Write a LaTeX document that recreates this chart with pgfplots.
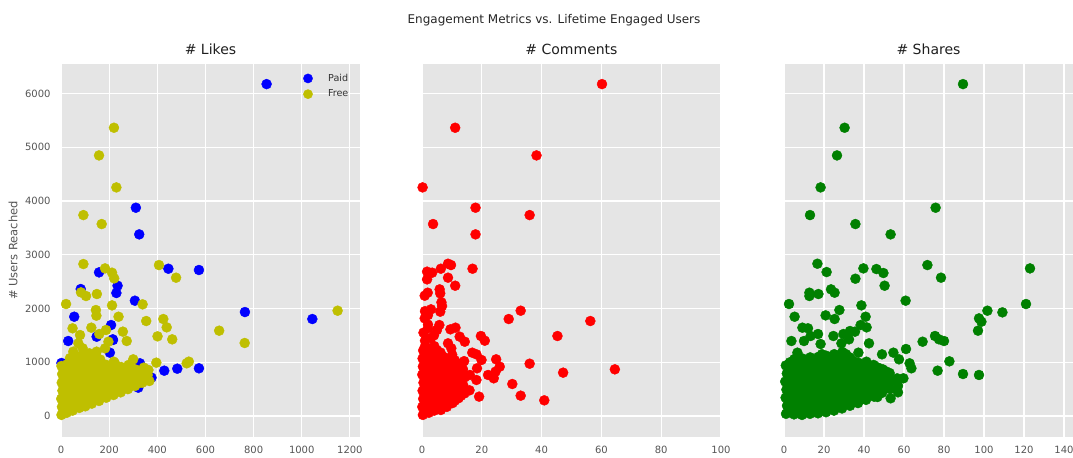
\documentclass[border=0pt]{standalone}
\usepackage{fontspec}
\setmainfont{DejaVu Sans}
\usepackage{pgfplots}
\usepackage{pgfplotstable}
\pgfplotsset{compat=1.18}
\definecolor{bg}{HTML}{E5E5E5}
\definecolor{tick}{HTML}{555555}
\definecolor{paid}{rgb}{0,0,1}
\definecolor{free}{rgb}{0.75,0.75,0}
\definecolor{cr}{rgb}{1,0,0}
\definecolor{sg}{rgb}{0,0.5,0}

\pgfplotstableread{
x y
854 6175
311 3875
325 3379
158 2672
446 2740
573 2716
82 2362
235 2424
230 2288
307 2145
764 1934
1044 1804
55 1847
208 1692
30 1395
215 1426
148 1475
203 1178
328 980
429 843
483 880
573 887
321 527
245 484
376 713
280 825
17 949
100 918
2 986
120 707
278 856
216 1414
60 600
150 750
10 300
}\likespaid

\pgfplotstableread{
x y
220 5363
158 4848
230 4253
93 3738
169 3571
93 2827
407 2808
183 2746
212 2666
221 2560
478 2573
83 2300
104 2232
149 2269
21 2083
212 2058
339 2077
145 1971
147 1866
239 1847
425 1804
1149 1959
354 1767
439 1649
48 1631
126 1643
187 1600
257 1569
657 1587
401 1482
159 1525
79 1506
462 1426
273 1395
763 1358
197 1382
72 1352
90 1259
51 1197
148 1197
183 1259
118 1166
300 1054
396 992
224 980
522 980
531 1011
363 856
360 763
367 651
314 856
314 670
273 670
2 20
4 170
1 320
6 470
3 620
5 780
2 930
24 60
20 220
27 370
22 510
26 660
21 820
25 960
48 100
52 250
46 400
55 560
49 700
53 850
47 1010
76 150
72 290
78 450
74 590
77 750
71 900
79 1040
101 180
98 330
104 490
99 640
102 790
97 940
105 1090
128 230
133 390
127 540
132 690
129 840
134 1000
158 280
162 440
156 590
161 740
157 900
163 1050
188 340
192 490
186 640
191 790
189 950
218 390
222 550
216 700
221 860
219 1010
248 440
252 600
246 760
251 910
278 500
282 650
276 800
281 950
308 560
312 720
306 870
338 620
342 760
344 900
10 80
35 130
12 250
60 180
85 260
12 95
12 395
12 545
12 695
12 845
37 175
37 325
37 475
37 625
37 775
37 925
37 1075
62 215
62 365
62 515
62 665
62 815
62 965
62 1115
87 225
87 375
87 525
87 675
87 825
87 975
87 1125
115 265
115 415
115 565
115 715
115 865
115 1015
145 315
145 465
145 615
145 765
145 915
145 1065
175 365
175 515
175 665
175 815
175 965
205 415
205 565
205 715
205 865
235 465
235 615
235 765
235 915
265 515
265 665
265 815
295 565
295 715
295 865
325 615
325 765
}\likesfree

\pgfplotstableread{
x y
60.2 6175
11.1 5363
38.3 4848
0.2 4253
17.9 3875
36 3738
3.7 3571
17.9 3379
8.7 2833
9.7 2808
6.3 2740
16.9 2740
1.7 2685
3.4 2666
8.7 2573
1.7 2542
11.1 2424
5.9 2356
6.1 2281
1.9 2294
0.9 2238
6.5 2114
6.7 2046
3 1984
6.1 1941
2 1878
0.9 1816
33 1959
29 1804
56.3 1767
45.3 1488
5.8 1692
9.5 1612
11.2 1643
2 1631
12.6 1476
14.3 1382
19.7 1488
21 1401
8.7 1352
9.8 1259
16.8 1178
18.2 1147
19.9 1042
24.8 1054
26 918
36 973
64.5 868
47.2 806
24.6 825
24 701
22.1 763
30.2 595
33 378
40.9 291
19.1 360
18.2 670
18.4 887
16 763
15.9 477
6.3 112
0.3 20
0.1 170
0.4 320
0.2 470
0.5 620
0.1 770
0.3 920
0.2 1070
0.4 1220
2.3 60
1.8 210
2.4 360
1.7 510
2.2 660
1.9 810
2.5 960
1.8 1110
2.2 1260
4.1 100
3.7 250
4.3 400
3.8 550
4.2 700
3.9 850
4.4 1000
3.6 1150
4.1 1300
6.2 130
5.8 280
6.4 430
5.7 580
6.1 730
6.3 880
5.9 1030
6.2 1180
8.3 170
7.8 320
8.4 470
7.9 620
8.2 770
7.7 920
8.1 1070
10.2 240
9.8 390
10.4 540
9.7 690
10.3 840
9.9 990
10.1 1140
12.2 330
11.8 480
12.4 630
11.7 780
12.1 930
14.2 420
13.8 570
14.3 720
13.7 870
14.1 1020
1 95
1 245
1 395
1 545
1 695
1 845
1 995
1 1145
1 1295
3 135
3 285
3 435
3 585
3 735
3 885
3 1035
3 1185
5 175
5 325
5 475
5 625
5 775
5 925
5 1075
5 1225
7 205
7 355
7 505
7 655
7 805
7 955
7 1105
9 245
9 395
9 545
9 695
9 845
9 995
11 285
11 435
11 585
11 735
11 885
11 1035
13 375
13 525
13 675
13 825
13 975
1 1400
3 1450
0.5 1550
4 1500
2 1700
5 1600
1 1950
}\comments

\pgfplotstableread{
x y
89.5 6175
30.3 5363
26.5 4848
18.3 4253
75.8 3875
13 3738
35.7 3571
53.3 3379
16.7 2833
71.7 2808
39.7 2746
46.2 2734
49.7 2660
21.3 2678
123 2746
78.5 2573
35.7 2554
50.3 2424
23.5 2356
25.3 2294
12.7 2294
12.7 2232
17.2 2269
60.8 2145
2.5 2083
38.7 2058
121 2083
27.7 1971
101.7 1959
109.2 1928
97.5 1816
98.7 1754
97 1587
5.3 1847
20.8 1872
25.3 1804
40.8 1847
38.3 1692
41.3 1649
9.2 1643
12 1631
17 1525
24.7 1488
29.7 1525
33 1581
35.5 1569
3.7 1395
10 1395
13.3 1488
18.3 1339
28.7 1352
32.5 1426
42.5 1352
69.3 1382
75.5 1488
77.5 1426
80 1395
61 1246
6.7 1178
37.2 1178
49 1147
54.7 1178
57.5 1054
62.8 980
63.7 887
82.7 1017
76.8 843
89.5 781
97.5 763
59.7 701
46.7 353
53.3 329
57 440
40.8 465
1 40
1.5 190
0.8 340
1.2 490
0.6 640
1.4 790
0.9 940
5 30
5.5 180
4.6 330
5.3 480
4.8 630
5.4 780
4.7 930
5.2 1060
9 20
9.4 170
8.7 320
9.3 470
8.8 620
9.5 770
8.9 920
9.2 1070
13 40
13.5 190
12.7 340
13.3 490
12.8 640
13.4 790
12.9 940
13.1 1090
17 50
17.4 200
16.6 350
17.3 500
16.8 650
17.5 800
16.9 950
17.2 1100
21 70
21.4 220
20.7 370
21.3 520
20.8 670
21.5 820
20.9 970
21.2 1120
25 100
25.4 250
24.6 400
25.3 550
24.8 700
25.5 850
24.7 1000
25.1 1150
29 140
29.4 290
28.7 440
29.3 590
28.8 740
29.5 890
28.9 1040
29.2 1190
33 190
33.4 340
32.7 490
33.3 640
32.8 790
33.5 940
32.9 1090
37 240
37.4 390
36.7 540
37.3 690
36.8 840
37.2 990
41 300
41.4 450
40.7 600
41.3 750
40.8 900
41.2 1010
45 360
45.4 510
44.7 660
45.3 810
44.8 950
49 430
49.4 580
48.7 730
49.3 870
53 500
53.4 650
52.8 800
57 560
56.6 700
3 115
3 265
3 415
3 565
3 715
3 865
3 1000
7 115
7 265
7 415
7 565
7 715
7 865
7 1015
11 115
11 265
11 415
11 565
11 715
11 865
11 1015
15 115
15 265
15 415
15 565
15 715
15 865
15 1015
19 115
19 265
19 415
19 565
19 715
19 865
19 1015
19 1150
23 165
23 315
23 465
23 615
23 765
23 915
23 1065
27 165
27 315
27 465
27 615
27 765
27 915
27 1065
31 265
31 415
31 565
31 715
31 865
31 1015
31 1150
35 265
35 415
35 565
35 715
35 865
35 1015
39 315
39 465
39 615
39 765
39 915
43 415
43 565
43 715
43 865
47 465
47 615
47 765
47 900
51 565
51 715
51 830
}\shares

\pgfplotsset{
  panel/.style={
    scale only axis, width=299bp, height=373bp, anchor=south west,
    ymin=-391, ymax=6549,
    axis background/.style={fill=bg},
    axis line style={draw=none},
    grid=major, grid style={white, line width=1.1bp},
    major tick length=0pt,
    tick label style={font=\fontsize{10bp}{12bp}\selectfont, text=tick},
    /pgf/number format/assume math mode=true,
    /pgf/number format/set thousands separator={},
    scaled ticks=false,
    xticklabel style={yshift=-6bp},
    yticklabel style={xshift=-7bp},
    ytick={0,1000,2000,3000,4000,5000,6000},
    title style={font=\fontsize{14bp}{16bp}\selectfont, text=black!88, at={(axis description cs:0.5,1)}, anchor=base, yshift=3.5bp},
  },
  dots/.style={only marks, mark=*, mark size=5bp, color=#1},
}

\begin{document}
\begin{tikzpicture}
\useasboundingbox (0,0) rectangle (1073bp,458bp);
\node[font=\fontsize{12bp}{14bp}\selectfont, text=black!85, anchor=base] at (554bp,434bp) {Engagement Metrics vs. Lifetime Engaged Users};

\begin{axis}[panel, at={(61bp,21bp)},
  xmin=0, xmax=1242, xtick={0,200,400,600,800,1000,1200},
  title={\# Likes},
  ylabel={\# Users Reached},
  ylabel style={font=\fontsize{11.5bp}{13bp}\selectfont, text=tick, at={(axis description cs:-0.1605,0.5)}, anchor=center},
  legend style={draw=none, fill=none, inner sep=0pt, outer sep=0pt,
    at={(axis description cs:0.8107,0.9736)}, anchor=north west,
    font=\fontsize{9.6bp}{11bp}\selectfont, text=black!80,
    row sep=6.5bp, column sep=15.4bp, nodes={inner sep=0pt}},
  legend image code/.code={\draw[mark repeat=2,mark phase=2,#1,mark size=4.6bp] plot coordinates {(0bp,0bp)(4bp,0bp)(8bp,0bp)};},
]
\addplot[dots=paid] table {\likespaid};
\addplot[dots=free] table {\likesfree};
\legend{Paid,Free}
\end{axis}

\begin{axis}[panel, at={(422bp,21bp)},
  xmin=0, xmax=100, xtick={0,20,40,60,80,100},
  yticklabels={},
  title={\# Comments},
]
\addplot[dots=cr] table {\comments};
\end{axis}

\begin{axis}[panel, at={(784bp,21bp)}, width=289bp,
  xmin=0, xmax=144.5, xtick={0,20,40,60,80,100,120,140},
  yticklabels={},
  title={\# Shares},
]
\addplot[dots=sg] table {\shares};
\end{axis}
\end{tikzpicture}
\end{document}
